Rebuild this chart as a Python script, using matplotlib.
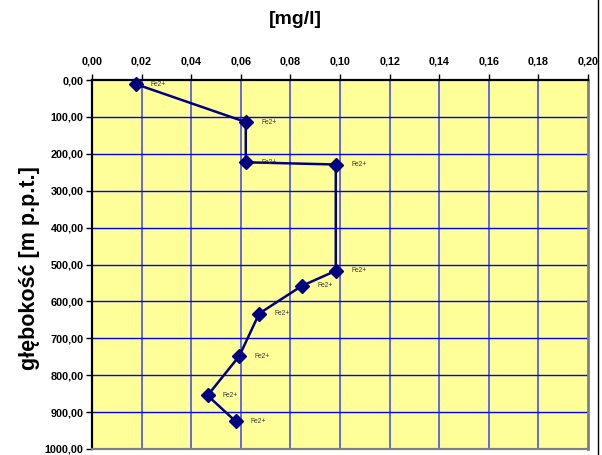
import matplotlib
matplotlib.use('Agg')
import matplotlib.pyplot as plt
from matplotlib.ticker import FuncFormatter, MultipleLocator
from matplotlib.lines import Line2D

plt.rcParams['font.family'] = ['Liberation Sans', 'DejaVu Sans']

# Fe2+ concentration [mg/l] vs depth [m p.p.t.]
conc = [0.0176, 0.0620, 0.0620, 0.0983, 0.0983, 0.0846, 0.0674, 0.0594, 0.0466, 0.0579]
depth = [11, 114, 223, 229, 517, 558, 633, 748, 855, 925]
labels = ['Fe2+'] * len(conc)

fig = plt.figure(figsize=(6.02, 4.55), dpi=100)
ax = fig.add_axes([92/602, 1 - 449/455, (588 - 92)/602, (449 - 80)/455])
ax.set_facecolor('#FFFF99')

ax.plot(conc, depth, color='#000080', lw=1.8, marker='D', ms=7.5,
        mfc='#000080', mec='#000080', zorder=5, clip_on=False)
for x, y, t in zip(conc, depth, labels):
    ax.annotate(t, xy=(x, y), xytext=(11, 0), textcoords='offset points',
                fontsize=4.8, color='#333333', ha='left', va='center', zorder=6)

ax.set_xlim(0, 0.20)
ax.set_ylim(1000, 0)
ax.xaxis.set_major_locator(MultipleLocator(0.02))
ax.yaxis.set_major_locator(MultipleLocator(100))
ax.xaxis.set_major_formatter(FuncFormatter(lambda v, p: f'{v:.2f}'.replace('.', ',')))
ax.yaxis.set_major_formatter(FuncFormatter(lambda v, p: f'{v:.2f}'.replace('.', ',')))
ax.xaxis.tick_top()
ax.tick_params(axis='both', labelsize=7.8, length=4, width=1.0, color='black')
ax.tick_params(axis='x', pad=6)
ax.tick_params(axis='y', pad=2)
for lab in ax.get_xticklabels() + ax.get_yticklabels():
    lab.set_fontweight('bold')

ax.grid(False)
for v in [0.02, 0.04, 0.06, 0.08, 0.10, 0.12, 0.14, 0.16, 0.18]:
    ax.axvline(v, color='#5A5AEA', lw=1.3, zorder=1)
for h in range(100, 1000, 100):
    ax.axhline(h, color='#0000FF', lw=1.0, zorder=1)

ax.spines['top'].set_color('black')
ax.spines['top'].set_linewidth(1.6)
ax.spines['left'].set_color('black')
ax.spines['left'].set_linewidth(1.6)
ax.spines['right'].set_color('#808080')
ax.spines['right'].set_linewidth(2.0)
ax.spines['bottom'].set_color('#808080')
ax.spines['bottom'].set_linewidth(1.6)

fig.text(295/602, 1 - 20/455, '[mg/l]', fontsize=14, fontweight='bold',
         ha='center', va='center')
fig.text(30/602, 1 - 268/455, 'głębokość [m p.p.t.]', fontsize=15.5,
         fontweight='bold', rotation=90, ha='center', va='center')

fig.add_artist(Line2D([598/602, 598/602], [0, 1], color='black', lw=1.0,
                      transform=fig.transFigure))

fig.savefig('out.png', dpi=100)
